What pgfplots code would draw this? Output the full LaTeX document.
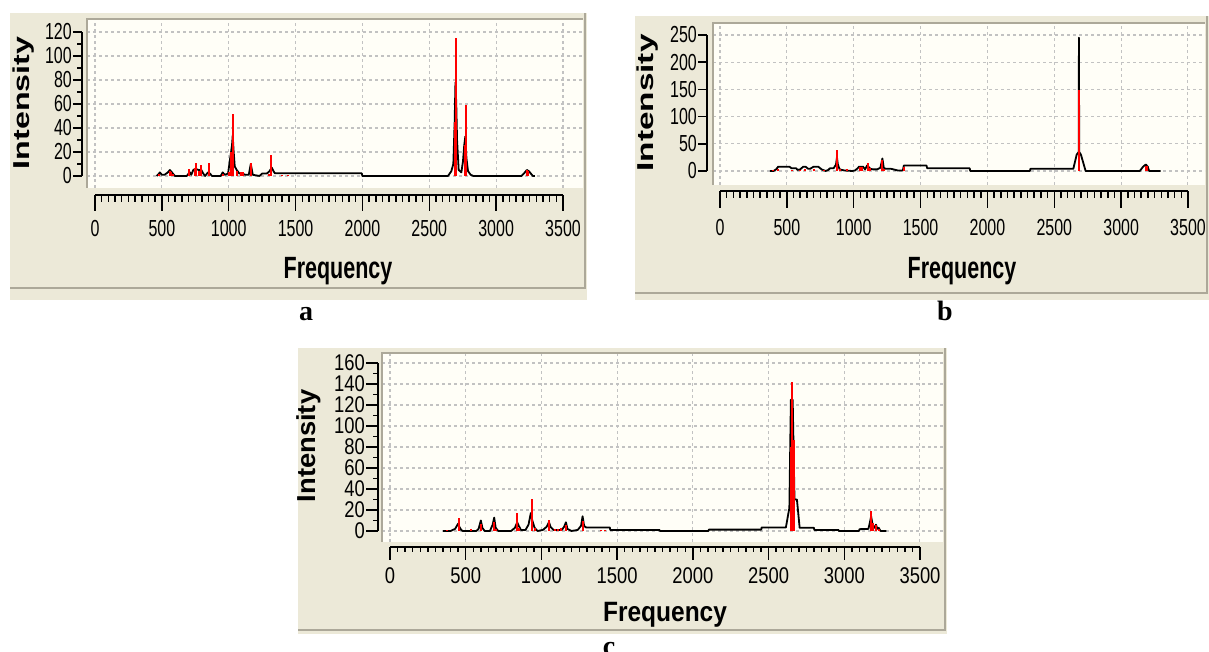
\documentclass[border=0pt]{standalone}
\usepackage{fontspec}
\setmainfont{Liberation Sans}
\newfontfamily\capfont{Liberation Serif}
\usepackage{graphicx}
\usepackage{pgfplots}
\pgfplotsset{compat=1.18}

\definecolor{panel}{HTML}{ECE9D8}
\definecolor{plotbg}{HTML}{FFFEF7}
\definecolor{gridc}{HTML}{C2C2C2}
\definecolor{frame}{HTML}{ACA899}
\definecolor{stick}{HTML}{FF0000}

% tick digits are narrow and tall in the screenshot
\newcommand\tk[1]{\scalebox{1}[1.45]{\fontsize{16}{16}\selectfont #1}}
\newcommand\tkc[1]{\scalebox{1.15}[1.42]{\fontsize{16}{16}\selectfont #1}}

\pgfplotsset{
  plotarea/.style={scale only axis, enlargelimits=false, clip=false,
    axis line style={draw=none}, tick style={draw=none}, major tick length=0pt,
    xticklabels={}, yticklabels={}, xtick={0,500,...,3500},
    grid=major, major grid style={gridc, line width=1.1pt, dash pattern=on 3pt off 3pt},
    axis background/.style={fill=plotbg}},
  spec/.style={black, line width=1.8pt, line join=round, no marks},
  sticks/.style={stick, ycomb, line width=2pt, no marks},
  xruler/.style={scale only axis, enlargelimits=false, height=2pt, ymin=0, ymax=1,
    axis x line=bottom, axis y line=none, axis line style={-, line width=1.8pt},
    xmin=0, xmax=3500, xtick={0,500,...,3500}, minor x tick num=9,
    tick align=outside, tick style={black, line width=1.5pt}},
  yruler/.style={scale only axis, enlargelimits=false, width=2pt, xmin=0, xmax=1, ymin=0,
    axis y line=left, axis x line=none, axis line style={-, line width=1.8pt},
    tick align=outside, tick style={black, line width=1.5pt},
    yticklabel style={anchor=east, inner sep=1pt}},
}

\begin{document}
\begin{tikzpicture}[x=1pt,y=1pt]
\path[use as bounding box] (0,0) rectangle (1209,652);
\fill[white] (0,0) rectangle (1209,652);

% window backgrounds
\fill[panel] (10,352) rectangle (587,639);
\draw[frame, line width=1.5pt] (10,364) -- (585,364) -- (585,639);
\fill[panel] (635,352) rectangle (1209,636);
\draw[frame, line width=1.5pt] (635,359) -- (1207,359) -- (1207,636);
\fill[panel] (298,18) rectangle (947,304);
\draw[frame, line width=1.5pt] (298,22) -- (945,22) -- (945,304);

%% ---------------- panel a ----------------
\begin{axis}[plotarea, at={(87pt,464pt)}, anchor=south west, width=496pt, height=169pt,
  xmin=-60, xmax=3650, ymin=-10, ymax=130.8, ytick={0,20,...,120}]
\addplot[spec] coordinates {(460,0) (475,1.5) (485,3) (500,1) (520,1) (545,3) (560,5) (575,3) (598,0) (686,0) (700,2) (710,3) (720,1) (735,5) (750,6) (775,5) (795,5) (810,2) (823,0) (845,3) (860,2) (875,0) (940,0) (955,3) (970,1) (995,2) (1015,18) (1025,26) (1030,34) (1036,22) (1045,8) (1060,5) (1080,2) (1100,2) (1125,1) (1150,1) (1165,10) (1180,1) (1230,0) (1250,2) (1285,2) (1305,4) (1322,7) (1335,4) (1346,2.2) (1995,2.2) (2000,0) (2640,0) (2665,4) (2680,10) (2690,45) (2696,78) (2702,60) (2708,30) (2720,5) (2740,3) (2752,12) (2762,26) (2770,33) (2778,15) (2790,4) (2810,1) (2830,0) (3190,0) (3215,3) (3230,5) (3245,4) (3260,2) (3275,0) (3290,0)};
\addplot[sticks] coordinates {(480,2) (560,4) (570,3) (580,2) (705,6) (745,7) (758,10.5) (775,4) (790,9) (850,10.5) (955,2) (1005,3) (1020,20) (1030,52) (1060,4) (1090,3) (1110,3) (1165,10.5) (1300,2) (1318,17.5) (1400,1) (1440,1) (2693,45) (2701,115) (2765,26) (2774,59) (3228,5) (3240,4)};
\draw[frame, line width=1.5pt] (rel axis cs:0,0) -- (rel axis cs:0,1) -- (rel axis cs:1,1);
\end{axis}
\begin{axis}[yruler, at={(82pt,476pt)}, anchor=south west, height=144pt, ymax=120,
  ytick={0,20,...,120}, minor y tick num=1, major tick length=9pt, minor tick length=5pt,
  yticklabels={\tk{0},\tk{20},\tk{40},\tk{60},\tk{80},\tk{100},\tk{120}}]
\end{axis}
\begin{axis}[xruler, at={(95pt,457pt)}, anchor=south west, width=468pt,
  major tick length=16pt, minor tick length=7pt, xticklabel style={yshift=-6pt},
  xticklabels={\tk{0},\tk{500},\tk{1000},\tk{1500},\tk{2000},\tk{2500},\tk{3000},\tk{3500}}]
\end{axis}
\node at (24,549) {\scalebox{1}[1.4]{\rotatebox{90}{\fontsize{23}{24}\selectfont\bfseries Intensity}}};
\node[anchor=base] at (338,373) {\scalebox{1}[1.43]{\fontsize{21.5}{22}\selectfont\bfseries Frequency}};
\node[anchor=base] at (306,331) {\capfont\fontsize{28}{28}\selectfont\bfseries a};

%% ---------------- panel b ----------------
\begin{axis}[plotarea, at={(713pt,467pt)}, anchor=south west, width=492pt, height=162pt,
  xmin=-52, xmax=3628, ymin=-25.7, ymax=272, ytick={0,50,...,250}]
\addplot[spec] coordinates {(374,0) (400,0) (420,3) (436,8) (520,8) (535,5) (570,5) (580,2) (600,3) (623,8) (640,8) (660,4) (675,4) (700,8) (735,8) (760,3) (790,0) (810,2) (823,5) (850,5) (868,12) (875,25) (882,12) (895,3) (930,1) (990,0) (1010,1) (1030,5) (1040,8) (1070,8) (1085,3) (1100,10) (1110,8) (1125,4) (1145,3) (1175,3) (1200,6) (1215,23) (1225,6) (1240,4) (1280,4) (1330,1) (1368,1) (1375,10) (1545,10) (1550,5) (1868,5) (1872,0) (2318,0) (2322,4) (2643,4) (2668,30) (2683,35) (2685,245) (2687,35) (2700,30) (2735,0) (3140,0) (3165,8) (3185,12) (3200,8) (3210,0) (3296,0)};
\addplot[sticks] coordinates {(400,2) (432,3) (540,2) (600,2) (636,3) (705,3) (780,2) (875,38) (900,4) (950,3) (1045,7) (1060,8) (1110,14) (1125,5) (1210,20) (1230,3) (1378,7) (2685,148) (3183,10) (3192,9)};
\draw[frame, line width=1.5pt] (rel axis cs:0,0) -- (rel axis cs:0,1) -- (rel axis cs:1,1);
\end{axis}
\begin{axis}[yruler, at={(707pt,481pt)}, anchor=south west, height=136pt, ymax=250,
  ytick={0,50,...,250}, major tick length=9pt,
  yticklabels={\tk{0},\tk{50},\tk{100},\tk{150},\tk{200},\tk{250}}]
\end{axis}
\begin{axis}[xruler, at={(720pt,461pt)}, anchor=south west, width=468pt,
  major tick length=17pt, minor tick length=7pt, xticklabel style={yshift=-8pt},
  xticklabels={\tk{0},\tk{500},\tk{1000},\tk{1500},\tk{2000},\tk{2500},\tk{3000},\tk{3500}}]
\end{axis}
\node at (648,549) {\scalebox{1}[1.45]{\rotatebox{90}{\fontsize{23}{24}\selectfont\bfseries Intensity}}};
\node[anchor=base] at (962,373) {\scalebox{1}[1.43]{\fontsize{21.5}{22}\selectfont\bfseries Frequency}};
\node[anchor=base] at (945,331) {\capfont\fontsize{28}{28}\selectfont\bfseries b};

%% ---------------- panel c ----------------
\begin{axis}[plotarea, at={(382pt,110pt)}, anchor=south west, width=561pt, height=189pt,
  xmin=-53, xmax=3653, ymin=-10.5, ymax=169.5, ytick={0,20,...,160}]
\addplot[spec] coordinates {(351,0) (400,0) (430,2) (450,7) (458,4) (470,1) (480,0) (570,0) (585,2) (600,10) (610,3) (625,0) (660,0) (678,6) (688,12.7) (698,3) (715,0) (800,0) (825,3) (840,8.3) (850,5) (865,1) (895,1) (915,6) (930,17) (940,10) (955,3) (975,0) (1010,1) (1035,4) (1050,8.3) (1060,4) (1080,1) (1135,1) (1150,4) (1162,8.3) (1172,2) (1200,0) (1240,1) (1262,5) (1272,14) (1282,5) (1295,3.3) (1452,3.3) (1455,1) (1780,1) (1783,0) (2104,0) (2106,1.3) (2452,1.3) (2455,3.3) (2615,3.3) (2638,22) (2648,125) (2660,125) (2672,30) (2688,30) (2706,3) (2800,3) (2803,1) (2962,1) (2965,0) (3098,0) (3101,1.7) (3160,2) (3170,8) (3178,14) (3188,6) (3200,3) (3210,6) (3220,2) (3228,3) (3240,0) (3279,0)};
\addplot[sticks] coordinates {(378,1) (455,12.7) (537,2) (603,6.7) (690,8.3) (700,2) (838,16.7) (850,3) (935,30) (960,3) (1050,10.7) (1090,2) (1110,2) (1130,2.5) (1165,6) (1276,9.3) (1395,1) (1420,1) (2650,80) (2657,142) (2667,87) (3180,19) (3192,8) (3210,6) (3228,2)};
\draw[frame, line width=1.5pt] (rel axis cs:0,0) -- (rel axis cs:0,1) -- (rel axis cs:1,1);
\end{axis}
\begin{axis}[yruler, at={(378pt,121pt)}, anchor=south west, height=168pt, ymax=160,
  ytick={0,20,...,160}, minor y tick num=1, major tick length=12pt, minor tick length=5pt,
  yticklabels={\tkc{0},\tkc{20},\tkc{40},\tkc{60},\tkc{80},\tkc{100},\tkc{120},\tkc{140},\tkc{160}}]
\end{axis}
\begin{axis}[xruler, at={(390pt,105pt)}, anchor=south west, width=530pt,
  major tick length=13pt, minor tick length=5pt, xticklabel style={yshift=-4pt},
  xticklabels={\tkc{0},\tkc{500},\tkc{1000},\tkc{1500},\tkc{2000},\tkc{2500},\tkc{3000},\tkc{3500}}]
\end{axis}
\node at (309,206) {\scalebox{1.13}[1.19]{\rotatebox{90}{\fontsize{23}{24}\selectfont\bfseries Intensity}}};
\node[anchor=base] at (665,30) {\scalebox{1.14}[1.3]{\fontsize{21.5}{22}\selectfont\bfseries Frequency}};
\node[anchor=base] at (609,-4) {\capfont\fontsize{28}{28}\selectfont\bfseries c};
\end{tikzpicture}
\end{document}
